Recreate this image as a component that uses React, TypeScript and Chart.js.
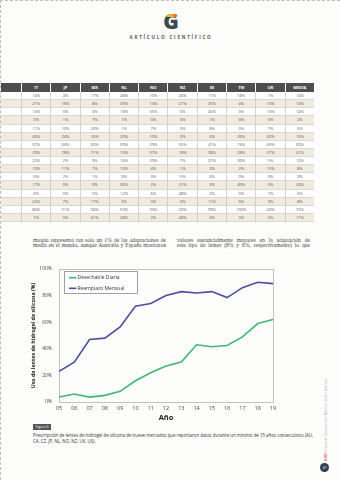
import React, { useEffect, useRef } from 'react';
import { Chart, registerables } from 'chart.js';

Chart.register(...registerables);

// ---------- chart data ----------
const years = ['05', '06', '07', '08', '09', '10', '11', '12', '13', '14', '15', '16', '17', '18', '19'];
const desechableDiaria = [3.7, 6, 3.7, 5, 8, 16, 22, 27, 30, 43, 41.5, 42.5, 49, 59, 62];
const reemplazoMensual = [23, 30, 47, 48, 56.5, 72, 74, 80, 83, 82, 83, 78.5, 86, 90, 89];
const seriesLabels = ['Desechable Diaria', 'Reemplazo Mensual'];
const seriesColors = ['#3fb873', '#4b4f9c'];
const yMin = 0;
const yMax = 100;
const yStep = 20;
const xTitle = 'Año';
const yTitle = 'Uso de lentes de hidrogel de silicona (%)';

// ---------- table data ----------
const tableHeaders = ['', 'IT', 'JP', 'MX', 'NL', 'NO', 'NZ', 'SE', 'TW', 'UK', 'MEDIA'];
const tableRows = [
  ['14%', '4%', '17%', '48%', '10%', '26%', '11%', '18%', '1%', '14%'],
  ['21%', '19%', '8%', '39%', '13%', '21%', '25%', '4%', '10%', '13%'],
  ['13%', '0%', '3%', '19%', '55%', '0%', '45%', '0%', '10%', '14%'],
  ['0%', '1%', '7%', '1%', '0%', '0%', '1%', '0%', '0%', '2%'],
  ['11%', '10%', '20%', '1%', '7%', '0%', '8%', '0%', '7%', '6%'],
  ['40%', '24%', '16%', '20%', '10%', '3%', '6%', '26%', '43%', '15%'],
  ['37%', '64%', '60%', '59%', '29%', '55%', '41%', '74%', '40%', '63%'],
  ['29%', '78%', '71%', '13%', '57%', '18%', '38%', '28%', '57%', '41%'],
  ['22%', '2%', '9%', '16%', '29%', '7%', '37%', '30%', '5%', '12%'],
  ['10%', '11%', '1%', '15%', '4%', '1%', '3%', '2%', '15%', '8%'],
  ['0%', '2%', '1%', '9%', '0%', '5%', '6%', '0%', '3%', '3%'],
  ['17%', '0%', '0%', '36%', '2%', '21%', '3%', '40%', '5%', '24%'],
  ['0%', '0%', '2%', '12%', '6%', '48%', '2%', '0%', '7%', '5%'],
  ['22%', '7%', '17%', '0%', '3%', '0%', '11%', '0%', '9%', '8%'],
  ['80%', '21%', '94%', '59%', '33%', '33%', '99%', '100%', '43%', '72%'],
  ['7%', '0%', '61%', '28%', '2%', '40%', '0%', '3%', '5%', '17%'],
];

const paraLeftLines = [
  'miopía representó tan solo un 1% de las adaptaciones de',
  'media en el mundo, aunque Australia y España mostraron',
];
const paraRightLines = [
  'valores sustancialmente mayores en la adaptación de',
  'este tipo de lentes (8% y 6%, respectivamente) lo que',
];
const captionLabel = 'Figura 3';
const captionLines = [
  'Prescripción de lentes de hidrogel de silicona de nueve mercados que reportaron datos durante un mínimo de 15 años consecutivos (AU,',
  'CA, CZ, JP, NL, NO, NZ, UK, US).',
];

const frame = {
  id: 'frame',
  beforeDatasetsDraw(chart: any) {
    const { ctx, chartArea: a } = chart;
    ctx.save();
    ctx.strokeStyle = '#c2c2c2';
    ctx.lineWidth = 1;
    ctx.strokeRect(Math.round(a.left) + 0.5, Math.round(a.top) + 0.5, Math.round(a.right - a.left), Math.round(a.bottom - a.top));
    ctx.restore();
  },
};

const boxLegend = {
  id: 'boxLegend',
  afterDraw(chart: any) {
    const { ctx, chartArea: a } = chart;
    const x = Math.round(a.left) + 5;
    const y = Math.round(a.top) + 2;
    const w = 73;
    const h = 22;
    ctx.save();
    ctx.fillStyle = '#ffffff';
    ctx.fillRect(x, y, w, h);
    ctx.strokeStyle = '#8a8a8a';
    ctx.lineWidth = 0.8;
    ctx.strokeRect(x + 0.5, y + 0.5, w, h);
    chart.data.datasets.forEach((ds: any, i: number) => {
      const cy = y + 6.7 + i * 10.6;
      ctx.strokeStyle = ds.borderColor;
      ctx.lineWidth = 1.6;
      ctx.beginPath();
      ctx.moveTo(x + 5, cy);
      ctx.lineTo(x + 12.5, cy);
      ctx.stroke();
      ctx.fillStyle = '#333';
      ctx.font = '5px "Open Sans"';
      ctx.textBaseline = 'middle';
      ctx.fillText(ds.label, x + 13.5, cy);
    });
    ctx.restore();
  },
};

function LineChart() {
  const ref = useRef<HTMLCanvasElement>(null);
  useEffect(() => {
    if (!ref.current) return;
    const chart = new Chart(ref.current, {
      type: 'line',
      data: {
        labels: years,
        datasets: [
          {
            label: seriesLabels[0],
            data: desechableDiaria,
            borderColor: seriesColors[0],
            backgroundColor: seriesColors[0],
            borderWidth: 1.6,
            pointRadius: 0,
            tension: 0,
          },
          {
            label: seriesLabels[1],
            data: reemplazoMensual,
            borderColor: seriesColors[1],
            backgroundColor: seriesColors[1],
            borderWidth: 1.6,
            pointRadius: 0,
            tension: 0,
          },
        ],
      },
      options: {
        responsive: false,
        animation: false,
        devicePixelRatio: 1,
        layout: { padding: { top: 6, right: 8, left: 0, bottom: 0 } },
        plugins: { legend: { display: false }, tooltip: { enabled: false } },
        scales: {
          x: {
            offset: false,
            grid: { display: false, drawTicks: false, tickLength: 0 },
            border: { display: false },
            ticks: {
              autoSkip: false,
              maxRotation: 0,
              padding: 3,
              color: '#444',
              font: { family: 'Open Sans', size: 5.5 },
            },
            title: {
              display: true,
              text: xTitle,
              color: '#222',
              font: { family: 'Open Sans', size: 7.5, weight: 'bold' },
              padding: { top: 0, bottom: 1 },
            },
            afterFit: (s: any) => {
              s.height = 21;
            },
          },
          y: {
            min: yMin,
            max: yMax,
            grid: { display: false, drawTicks: false, tickLength: 0 },
            border: { display: false },
            ticks: {
              stepSize: yStep,
              padding: 7,
              color: '#444',
              font: { family: 'Open Sans', size: 5 },
              callback: (v: any) => v + '%',
            },
            title: {
              display: true,
              text: yTitle,
              color: '#222',
              font: { family: 'Open Sans', size: 5.3, weight: 'bold' },
              padding: { top: 5, bottom: 0 },
            },
            afterFit: (s: any) => {
              s.width = 34;
            },
          },
        },
      } as any,
      plugins: [frame, boxLegend],
    });
    return () => chart.destroy();
  }, []);
  return (
    <canvas
      ref={ref}
      width={256}
      height={164}
      style={{ position: 'absolute', left: 24, top: 258, width: 256, height: 164 }}
    />
  );
}

function Logo() {
  return (
    <div style={{ position: 'absolute', left: 0, top: 8, width: 340, textAlign: 'center' }}>
      <svg width={22} height={22} viewBox="0 0 22 22" style={{ display: 'block', margin: '0 auto' }}>
        <defs>
          <linearGradient id="lg" x1="0" x2="1" y1="0" y2="0">
            <stop offset="0" stopColor="#37b34a" />
            <stop offset="0.45" stopColor="#f5c51b" />
            <stop offset="1" stopColor="#e8362b" />
          </linearGradient>
          <clipPath id="cp">
            <rect x="0" y="0" width="22" height="8" />
          </clipPath>
        </defs>
        <text x="11" y="20" textAnchor="middle" fontFamily="Open Sans" fontWeight="800" fontSize="21" fill="#3d4852">G</text>
        <text x="11" y="20" textAnchor="middle" fontFamily="Open Sans" fontWeight="800" fontSize="21" fill="url(#lg)" clipPath="url(#cp)">G</text>
      </svg>
      <div
        style={{
          marginTop: 3,
          fontFamily: 'Open Sans',
          fontWeight: 700,
          fontSize: 4.5,
          letterSpacing: 1.8,
          color: '#555',
          lineHeight: '6px',
        }}
      >
        ARTÍCULO CIENTÍFICO
      </div>
    </div>
  );
}

function DataTable() {
  const colTemplate = '20px repeat(10, 1fr)';
  return (
    <div style={{ position: 'absolute', left: 0, top: 82, width: 313 }}>
      <div style={{ display: 'grid', gridTemplateColumns: colTemplate, columnGap: 1, height: 9, background: '#fff' }}>
        {tableHeaders.map((h, i) => (
          <div
            key={i}
            style={{
              background: '#4e4e4e',
              color: '#fff',
              fontFamily: 'Open Sans',
              fontWeight: 700,
              fontSize: 4,
              lineHeight: '9px',
              textAlign: 'center',
            }}
          >
            {h}
          </div>
        ))}
      </div>
      {tableRows.map((row, r) => (
        <div
          key={r}
          style={{
            display: 'grid',
            gridTemplateColumns: colTemplate,
            height: 8.125,
            background: r % 2 === 1 ? '#f0ebde' : '#ffffff',
            borderBottom: '0.5px solid #d8d8d8',
            boxSizing: 'border-box',
          }}
        >
          {['', ...row].map((c, i) => (
            <div
              key={i}
              style={{
                borderLeft: i > 0 ? '0.6px solid #d0d0d0' : 'none',
                color: '#555',
                fontFamily: 'Open Sans',
                fontSize: 4,
                lineHeight: '8px',
                textAlign: 'center',
              }}
            >
              {c}
            </div>
          ))}
        </div>
      ))}
    </div>
  );
}

const lineStyle: React.CSSProperties = {
  fontFamily: '"Liberation Serif", serif',
  fontSize: 5.6,
  lineHeight: '5.3px',
  height: 5.3,
  color: '#444',
  textAlign: 'justify',
  textAlignLast: 'justify',
  whiteSpace: 'nowrap',
  overflow: 'visible',
};

function Para({ lines, left }: { lines: string[]; left: number }) {
  return (
    <div style={{ position: 'absolute', top: 237, left, width: 133 }}>
      {lines.map((l, i) => (
        <div key={i} style={{ ...lineStyle, whiteSpace: 'normal' }}>
          {l}
        </div>
      ))}
    </div>
  );
}

export default function App() {
  return (
    <div
      style={{
        position: 'absolute',
        left: 0,
        top: 0,
        width: 340,
        height: 480,
        background: '#fdfdfc',
        overflow: 'hidden',
        borderTop: '1px dashed #bdbdbd',
        borderLeft: '1px dashed #bdbdbd',
        boxSizing: 'border-box',
      }}
    >
      <Logo />
      <DataTable />
      <Para lines={paraLeftLines} left={32} />
      <Para lines={paraRightLines} left={176} />
      <LineChart />
      <div
        style={{
          position: 'absolute',
          left: 32,
          top: 423,
          width: 18,
          height: 6,
          background: '#555',
          color: '#fff',
          fontFamily: 'Open Sans',
          fontSize: 3.5,
          lineHeight: '6px',
          textAlign: 'center',
        }}
      >
        {captionLabel}
      </div>
      <div style={{ position: 'absolute', left: 32, top: 431, width: 280 }}>
        {captionLines.map((l, i) => (
          <div
            key={i}
            style={{
              fontFamily: 'Open Sans',
              fontSize: 4.4,
              lineHeight: '6px',
              color: '#333',
              whiteSpace: 'nowrap',
            }}
          >
            {l}
          </div>
        ))}
      </div>
      <div
        style={{
          position: 'absolute',
          left: 323,
          top: 460,
          transformOrigin: '0 0',
          transform: 'rotate(-90deg)',
          whiteSpace: 'nowrap',
          fontFamily: 'Open Sans',
          fontSize: 3.3,
          lineHeight: '4px',
          color: '#aaa',
        }}
      >
        <span style={{ color: '#e0533d', fontWeight: 700 }}>GOO</span> Revista de Optometría • Número 2020 • Artículo
      </div>
      <div
        style={{
          position: 'absolute',
          left: 319,
          top: 462,
          width: 9,
          height: 9,
          borderRadius: '50%',
          background: '#2e4053',
          color: '#fff',
          fontFamily: 'Open Sans',
          fontSize: 3.5,
          lineHeight: '9px',
          textAlign: 'center',
        }}
      >
        47
      </div>
    </div>
  );
}
